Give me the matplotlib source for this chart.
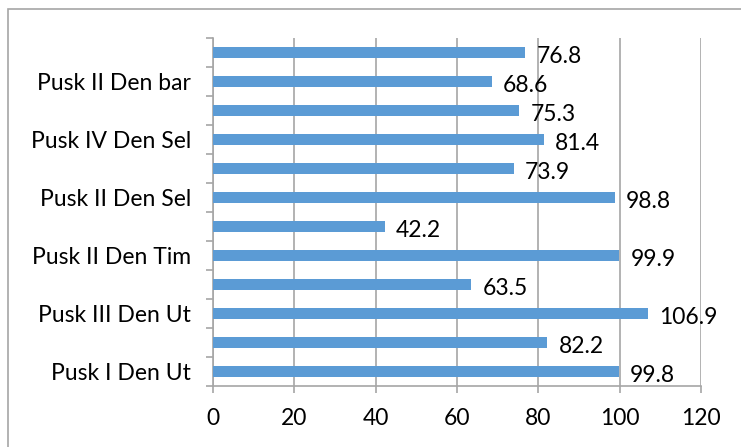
import numpy as np
import matplotlib
matplotlib.use("Agg")
import matplotlib.pyplot as plt
from matplotlib.patches import Rectangle

# data, bottom to top (only every other category name is shown on the chart)
labels = ["Pusk I Den Ut", "", "Pusk III Den Ut", "", "Pusk II Den Tim", "",
          "Pusk II Den Sel", "", "Pusk IV Den Sel", "", "Pusk II Den bar", ""]
values = [99.8, 82.2, 106.9, 63.5, 99.9, 42.2, 98.8, 73.9, 81.4, 75.3, 68.6, 76.8]
xticks = [0, 20, 40, 60, 80, 100, 120]

plt.rcParams['font.family'] = ['Lato', 'DejaVu Sans']
grey = '#A6A6A6'
fs = 16.5

fig = plt.figure(figsize=(7.41, 4.47), dpi=100)
ax = fig.add_axes([213 / 741, 1 - 386 / 447, 488 / 741, 348 / 447])

# outer chart border
fig.patches.append(Rectangle((8 / 741, -0.02), 1.05, 1 - 9 / 447 + 0.02,
                             transform=fig.transFigure, fill=False,
                             edgecolor=grey, linewidth=1.2))

y = np.arange(len(values))
ax.barh(y, values, height=0.38, color='#5B9BD5', zorder=3)

for yi, v in zip(y, values):
    ax.annotate(f"{v:.1f}", (v, yi), xytext=(8, -3), textcoords='offset points',
                ha='left', va='center', fontsize=fs, color='black', zorder=4)

ax.set_xlim(0, 120)
ax.set_ylim(-0.5, len(values) - 0.5)
ax.set_xticks(xticks)
ax.set_xticklabels([str(t) for t in xticks])
ax.xaxis.grid(True, color=grey, linewidth=1.2, zorder=0)

# labels at every other bar, tick marks at every category boundary
ax.set_yticks(y[::2])
ax.set_yticklabels(labels[::2])
ax.set_yticks(np.arange(-0.5, len(values), 1.0), minor=True)
ax.tick_params(axis='y', which='major', length=0, pad=16, labelsize=fs)
ax.tick_params(axis='y', which='minor', length=5, width=1.2, color=grey)
ax.tick_params(axis='x', length=5, width=1.2, color=grey, pad=11, labelsize=fs)

for s in ['top', 'right']:
    ax.spines[s].set_visible(False)
for s in ['left', 'bottom']:
    ax.spines[s].set_color(grey)
    ax.spines[s].set_linewidth(1.2)

fig.savefig("out.png", dpi=100)
